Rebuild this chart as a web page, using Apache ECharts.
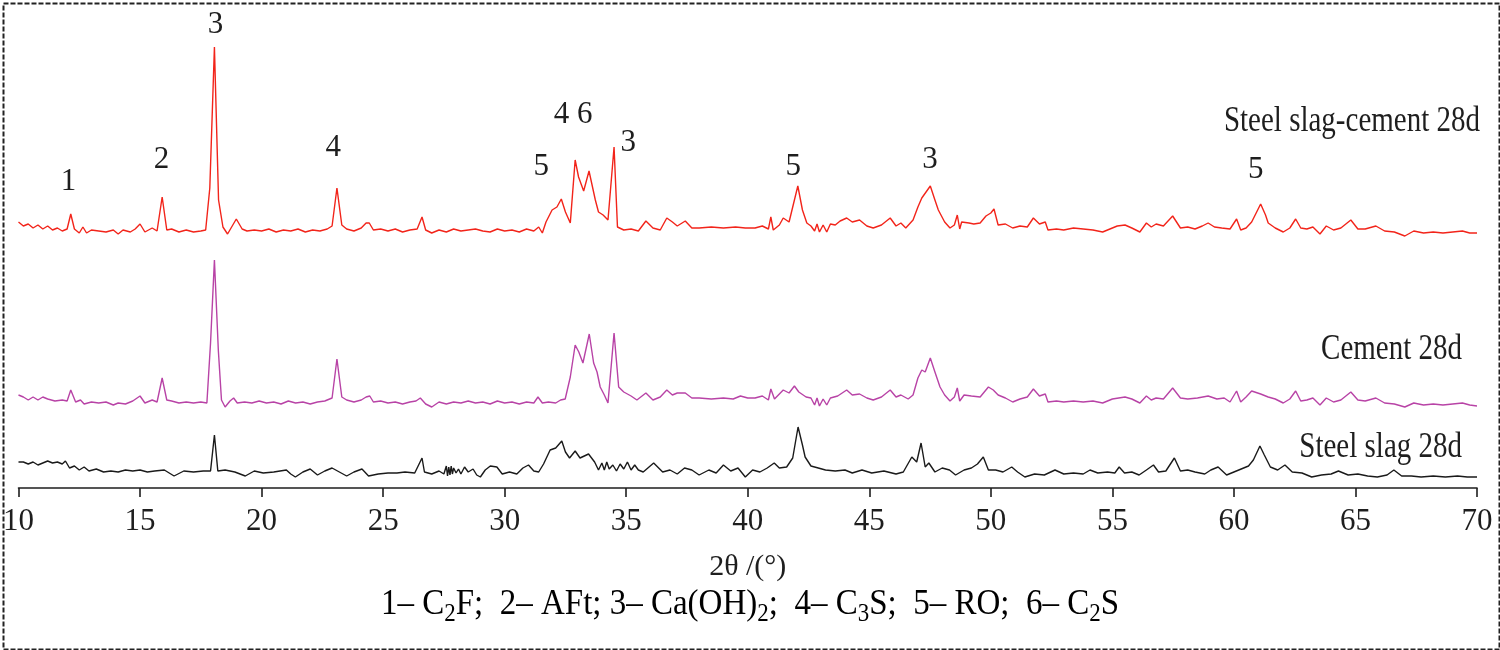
<!DOCTYPE html>
<html>
<head>
<meta charset="utf-8">
<script src="https://cdn.jsdelivr.net/npm/echarts/dist/echarts.min.js"></script>
<style>html,body{margin:0;padding:0;background:#fff}#c{width:1500px;height:650px}</style>
</head>
<body>
<div id="c"></div>
<script>
// 2θ (°) and offset intensity (a.u.)
const slagCement28d = [
[10.0,266],[10.2,262],[10.4,264],[10.6,260],[10.8,263],[11.0,259],[11.2,262],[11.4,258],[11.6,260],[11.8,257],[12.0,259],[12.15,274],[12.3,259],[12.5,255],[12.65,261],[12.8,255],[13.0,258],[13.3,257],[13.6,256],[13.9,258],[14.1,254],[14.3,258],[14.6,256],[14.8,259],[15.0,264],[15.2,256],[15.5,260],[15.7,257],[15.91,291],[16.1,258],[16.3,259],[16.6,256],[16.9,258],[17.2,256],[17.5,257],[17.7,258],[17.87,300],[18.06,441],[18.23,288],[18.41,261],[18.6,254],[18.96,269],[19.2,259],[19.4,257],[19.7,258],[20.0,257],[20.3,259],[20.6,256],[20.9,258],[21.2,257],[21.5,259],[21.8,256],[22.1,258],[22.4,257],[22.7,259],[22.9,262],[23.1,300],[23.3,263],[23.5,259],[23.8,257],[24.1,260],[24.3,265],[24.43,265],[24.6,258],[24.9,259],[25.2,257],[25.5,259],[25.8,256],[26.1,258],[26.4,259],[26.6,271],[26.75,258],[27.0,255],[27.3,258],[27.6,256],[27.9,259],[28.2,257],[28.5,258],[28.8,259],[29.1,257],[29.4,256],[29.7,259],[30.0,257],[30.3,258],[30.6,256],[30.9,259],[31.2,257],[31.4,261],[31.55,255],[31.7,266],[31.95,278],[32.15,281],[32.33,289],[32.5,276],[32.7,265],[32.9,328],[33.04,311],[33.25,297],[33.47,317],[33.73,288],[33.86,276],[34.05,273],[34.25,268],[34.5,341],[34.64,261],[34.9,258],[35.2,259],[35.5,257],[35.81,267],[36.1,260],[36.4,258],[36.67,270],[36.9,266],[37.1,262],[37.43,267],[37.7,260],[38.0,260],[38.5,261],[39.0,260],[39.5,261],[39.9,260],[40.3,260],[40.6,262],[40.85,259],[40.95,271],[41.05,258],[41.3,263],[41.46,270],[41.7,266],[42.06,302],[42.25,278],[42.43,265],[42.6,262],[42.75,257],[42.85,264],[42.95,256],[43.1,263],[43.25,256],[43.4,264],[43.6,263],[43.8,267],[44.07,270],[44.3,266],[44.6,268],[44.9,262],[45.16,260],[45.5,263],[45.86,270],[46.1,262],[46.3,265],[46.5,260],[46.8,268],[47.0,281],[47.16,290],[47.51,302],[47.7,288],[47.84,278],[48.1,266],[48.32,260],[48.5,263],[48.62,273],[48.72,259],[48.8,266],[49.1,265],[49.3,264],[49.56,265],[49.8,272],[50.0,275],[50.13,279],[50.3,263],[50.6,264],[50.9,260],[51.2,262],[51.5,261],[51.75,270],[52.0,264],[52.24,266],[52.35,258],[52.7,259],[53.0,258],[53.4,260],[53.8,259],[54.2,258],[54.6,256],[54.9,259],[55.2,262],[55.52,263],[55.8,260],[56.13,256],[56.4,265],[56.6,261],[56.8,264],[57.1,262],[57.48,272],[57.8,260],[58.1,261],[58.4,259],[58.7,262],[58.94,265],[59.2,261],[59.5,260],[59.84,259],[60.11,269],[60.28,258],[60.5,260],[60.73,266],[61.1,284],[61.3,273],[61.41,265],[61.7,260],[62.03,256],[62.3,260],[62.54,269],[62.75,260],[63.0,259],[63.25,261],[63.54,254],[63.8,262],[64.1,258],[64.4,260],[64.81,268],[65.1,259],[65.4,259],[65.84,262],[66.2,257],[66.6,256],[67.03,252],[67.4,257],[67.8,255],[68.2,256],[68.6,255],[69.0,256],[69.4,257],[69.7,255],[70.0,255]
];
const cement28d = [
[10.0,93],[10.2,91],[10.4,88],[10.6,91],[10.8,88],[11.0,91],[11.2,89],[11.5,87],[11.8,88],[12.0,87],[12.15,98],[12.35,86],[12.55,88],[12.7,84],[13.0,86],[13.3,85],[13.6,86],[13.9,83],[14.1,85],[14.4,84],[14.7,87],[15.0,92],[15.2,85],[15.5,88],[15.7,86],[15.91,110],[16.1,88],[16.3,87],[16.6,85],[16.9,86],[17.2,85],[17.5,86],[17.75,85],[17.9,145],[18.06,228],[18.22,138],[18.35,88],[18.5,81],[18.7,87],[18.85,90],[19.0,85],[19.3,86],[19.6,85],[19.9,87],[20.2,85],[20.5,86],[20.8,84],[21.1,87],[21.4,85],[21.7,86],[22.0,84],[22.3,86],[22.6,87],[22.9,90],[23.1,129],[23.3,91],[23.5,88],[23.8,86],[24.1,88],[24.3,91],[24.45,92],[24.6,86],[24.9,87],[25.2,85],[25.5,86],[25.8,84],[26.1,86],[26.35,87],[26.53,90],[26.75,84],[27.0,81],[27.3,86],[27.6,84],[27.9,86],[28.2,85],[28.5,87],[28.8,85],[29.1,86],[29.4,84],[29.7,87],[30.0,85],[30.3,86],[30.6,84],[30.9,86],[31.2,85],[31.37,91],[31.55,85],[31.8,86],[32.1,85],[32.3,88],[32.49,89],[32.7,111],[32.9,143],[33.05,136],[33.22,125],[33.48,154],[33.66,125],[33.8,116],[33.93,101],[34.1,93],[34.25,85],[34.5,155],[34.69,101],[34.9,96],[35.2,92],[35.44,88],[35.81,95],[36.1,88],[36.4,91],[36.67,98],[36.9,93],[37.1,95],[37.43,95],[37.7,90],[38.0,90],[38.5,89],[39.0,90],[39.4,89],[39.7,92],[40.0,90],[40.3,90],[40.6,92],[40.85,88],[40.95,99],[41.1,89],[41.46,98],[41.7,95],[41.92,102],[42.1,96],[42.4,91],[42.6,90],[42.75,83],[42.85,90],[42.95,82],[43.1,89],[43.25,83],[43.4,90],[43.7,92],[44.07,98],[44.3,93],[44.6,94],[44.9,90],[45.16,88],[45.5,91],[45.86,98],[46.1,91],[46.3,93],[46.6,89],[46.8,93],[47.0,110],[47.16,118],[47.3,116],[47.51,130],[47.7,116],[47.91,101],[48.1,93],[48.32,87],[48.5,91],[48.62,100],[48.72,87],[48.9,93],[49.2,92],[49.56,91],[49.9,101],[50.1,98],[50.3,93],[50.6,90],[50.9,86],[51.2,89],[51.5,91],[51.75,99],[52.0,92],[52.24,94],[52.35,86],[52.7,87],[53.0,86],[53.4,87],[53.8,86],[54.2,87],[54.6,85],[55.0,89],[55.52,91],[55.8,89],[56.13,85],[56.4,92],[56.6,88],[56.8,90],[57.1,89],[57.48,100],[57.8,90],[58.1,89],[58.5,90],[58.94,92],[59.3,89],[59.6,90],[59.84,86],[60.11,97],[60.28,86],[60.5,91],[60.73,97],[61.1,94],[61.41,91],[61.7,89],[62.03,85],[62.3,89],[62.54,97],[62.75,87],[63.0,88],[63.25,90],[63.54,83],[63.8,90],[64.1,86],[64.4,88],[64.81,96],[65.1,88],[65.4,87],[65.84,90],[66.2,85],[66.6,84],[67.03,81],[67.4,85],[67.8,83],[68.2,84],[68.6,83],[69.0,84],[69.4,85],[69.7,83],[70.0,82]
];
const slag28d = [
[10.0,26],[10.2,26],[10.4,24],[10.6,26],[10.8,23],[11.0,25],[11.2,27],[11.4,25],[11.6,26],[11.8,24],[11.93,27],[12.1,20],[12.3,22],[12.5,18],[12.7,21],[12.9,17],[13.2,19],[13.5,16],[13.8,17],[14.1,16],[14.4,18],[14.7,17],[15.0,18],[15.3,16],[15.6,17],[16.0,18],[16.4,12],[16.8,17],[17.2,16],[17.6,17],[17.9,17],[18.06,53],[18.2,17],[18.5,18],[18.9,16],[19.33,12],[19.7,17],[20.07,15],[20.5,16],[21.02,18],[21.2,14],[21.39,11],[21.7,16],[22.0,19],[22.3,13],[22.6,17],[22.9,20],[23.2,16],[23.5,12],[23.8,16],[24.13,19],[24.4,12],[24.8,14],[25.2,15],[25.57,15],[25.9,16],[26.3,15],[26.6,30],[26.7,16],[27.0,14],[27.3,17],[27.5,14],[27.6,22],[27.65,12],[27.7,21],[27.75,13],[27.8,22],[27.85,14],[27.9,20],[28.0,15],[28.1,19],[28.2,14],[28.35,21],[28.5,16],[28.7,19],[28.85,13],[29.0,11],[29.2,18],[29.41,22],[29.68,21],[29.9,14],[30.2,16],[30.5,14],[30.75,20],[30.98,23],[31.2,17],[31.4,16],[31.6,24],[31.87,38],[32.1,40],[32.35,47],[32.5,36],[32.67,30],[32.9,37],[33.1,30],[33.45,34],[33.7,26],[33.86,18],[34.0,25],[34.1,18],[34.2,26],[34.3,19],[34.45,23],[34.6,17],[34.75,24],[34.9,19],[35.05,26],[35.2,18],[35.35,23],[35.5,18],[35.7,16],[36.13,25],[36.5,16],[36.8,18],[37.1,14],[37.4,20],[37.7,18],[38.0,13],[38.4,18],[38.7,15],[39.0,23],[39.3,17],[39.6,20],[39.9,11],[40.2,18],[40.5,16],[40.8,20],[41.09,25],[41.3,20],[41.6,21],[41.85,30],[42.07,61],[42.25,43],[42.36,31],[42.6,22],[42.9,20],[43.2,18],[43.6,17],[44.0,18],[44.3,15],[44.7,18],[45.1,15],[45.6,17],[46.1,14],[46.4,16],[46.75,31],[46.95,26],[47.13,45],[47.3,21],[47.45,25],[47.7,16],[48.0,20],[48.3,18],[48.55,13],[48.9,18],[49.2,20],[49.45,24],[49.69,31],[49.9,18],[50.2,18],[50.5,16],[50.86,21],[51.1,16],[51.4,11],[51.8,14],[52.2,13],[52.64,18],[53.0,14],[53.4,15],[53.8,14],[54.08,18],[54.4,15],[54.8,16],[55.1,15],[55.28,21],[55.5,15],[55.8,16],[56.1,13],[56.4,18],[56.69,23],[56.9,16],[57.2,17],[57.55,30],[57.8,17],[58.1,18],[58.4,16],[58.8,14],[59.05,18],[59.35,21],[59.7,13],[60.0,16],[60.3,19],[60.6,22],[60.8,28],[61.07,42],[61.25,33],[61.5,21],[61.8,18],[62.1,23],[62.4,16],[62.8,15],[63.2,11],[63.6,13],[64.0,14],[64.3,17],[64.7,13],[65.1,14],[65.5,12],[65.9,11],[66.3,13],[66.58,18],[66.9,12],[67.3,12],[67.7,11],[68.2,12],[68.7,11],[69.2,12],[69.6,11],[70.0,11]
];
// peak annotations: [2θ, height, label]
const peakLabels = [
[12.06,306,'1'],[15.88,328,'2'],[18.1,463,'3'],[22.95,340,'4'],[31.5,321,'5'],
[32.82,373,'4 6'],[35.08,345,'3'],[41.87,321,'5'],[47.5,328,'3'],[60.9,318,'5']
];
const seriesNames = ['Steel slag-cement 28d','Cement 28d','Steel slag 28d'];
const xTicks = {min:10, max:70, step:5};
const xTitle = '2θ /(°)';

const FONT = '"Liberation Serif","DejaVu Serif",serif';
const INK = '#1e1e1e';
const chart = echarts.init(document.getElementById('c'), null, {renderer:'canvas'});
const lineSeries = (name, data, color) => ({
  name, type:'line', data, showSymbol:false, symbol:'none', smooth:false,
  lineStyle:{color, width:1.4}, animation:false, z:3
});
chart.setOption({
  animation:false,
  backgroundColor:'#fff',
  grid:{left:18, right:23, top:20, bottom:162, containLabel:false},
  xAxis:{
    type:'value', min:xTicks.min, max:xTicks.max, interval:xTicks.step,
    axisLine:{show:true, lineStyle:{color:INK, width:1.6}},
    axisTick:{show:true, inside:false, length:9, lineStyle:{color:INK, width:1.6}},
    axisLabel:{color:INK, fontFamily:FONT, fontSize:31, margin:18},
    splitLine:{show:false},
    name:xTitle, nameLocation:'middle', nameGap:64,
    nameTextStyle:{color:INK, fontFamily:FONT, fontSize:30}
  },
  yAxis:{type:'value', min:0, max:468, show:false},
  series:[
    lineSeries(seriesNames[0], slagCement28d, '#f2241a'),
    lineSeries(seriesNames[1], cement28d, '#b843a6'),
    lineSeries(seriesNames[2], slag28d, '#1a1a1a'),
    {
      type:'scatter', symbolSize:0, animation:false, z:5,
      itemStyle:{opacity:1},
      data:peakLabels.map(p=>({value:[p[0],p[1]], name:p[2]})),
      label:{show:true, position:'inside', formatter:p=>p.name, color:INK, opacity:1, fontFamily:FONT, fontSize:31, textBorderWidth:0},
      emphasis:{disabled:true}
    }
  ],
  graphic:[
    {type:'rect', left:1, top:1, shape:{width:1496, height:646}, style:{fill:'none', stroke:'#222', lineWidth:2, lineDash:[5,2]}, z:10},
    {type:'text', right:20, top:104, scaleY:1.2, style:{text:seriesNames[0], font:'29px '+FONT, fill:INK}},
    {type:'text', right:38, top:332, scaleY:1.2, style:{text:seriesNames[1], font:'29px '+FONT, fill:INK}},
    {type:'text', right:38, top:430, scaleY:1.2, style:{text:seriesNames[2], font:'29px '+FONT, fill:INK}},
    {type:'text', left:'center', top:586, scaleY:1.1, style:{
      text:'{a|1– C}{s|2}{a|F;  2– AFt; 3– Ca(OH)}{s|2}{a|;  4– C}{s|3}{a|S;  5– RO;  6– C}{s|2}{a|S}',
      rich:{
        a:{fontFamily:FONT, fontSize:33, color:INK, lineHeight:42, verticalAlign:'middle'},
        s:{fontFamily:FONT, fontSize:23, color:INK, lineHeight:42, verticalAlign:'bottom'}
      }
    }}
  ]
});
</script>
</body>
</html>
